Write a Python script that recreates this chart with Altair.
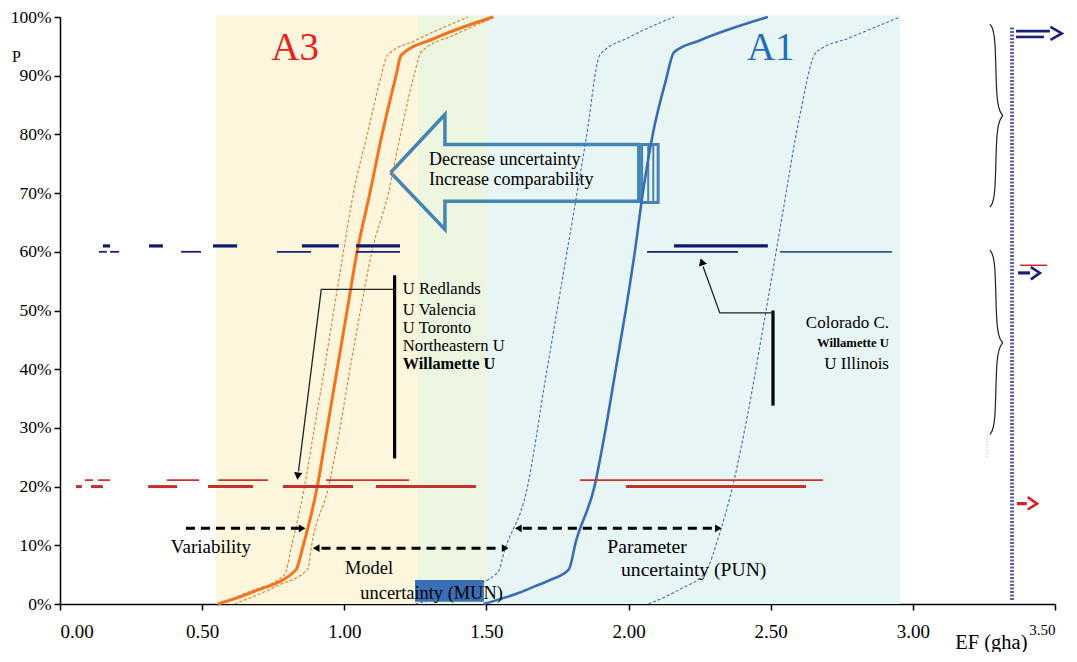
import altair as alt
import pandas as pd

FONT = "Liberation Serif"

# ---------------- data ----------------
# background bands (EF, gha)
band_lo = [0.549, 1.259, 1.502]
band_hi = [1.259, 1.502, 2.955]
band_fill = ["#fdf6dc", "#ebf5df", "#e8f5f5"]

# A3 cumulative curves (p in %, EF in gha)
a3_p_mid = [0, 2.2, 5.8, 9.7, 20, 30, 40, 50, 60, 70, 80, 90, 93.5, 96.3, 100]
a3_ef_mid = [0.555, 0.686, 0.83, 0.854, 0.905, 0.94, 0.975, 1.01, 1.045, 1.09, 1.133, 1.182, 1.2, 1.315, 1.523]
a3_p_lo = [0, 2, 5, 10, 20, 30, 40, 50, 60, 70, 80, 90, 93.5, 96, 100]
a3_ef_lo = [0.56, 0.66, 0.79, 0.815, 0.86, 0.895, 0.93, 0.963, 0.997, 1.032, 1.081, 1.13, 1.152, 1.25, 1.435]
a3_p_hi = [0, 3, 6, 10, 20, 30, 40, 50, 60, 70, 80, 90, 94, 97, 100]
a3_ef_hi = [0.614, 0.76, 0.872, 0.885, 0.945, 0.985, 1.02, 1.057, 1.097, 1.155, 1.198, 1.245, 1.27, 1.39, 1.53]

# A1 cumulative curves
a1_p_mid = [0, 2, 3, 4, 5.9, 10.7, 20, 30, 40, 50, 60, 70, 80, 89, 94, 96, 100]
a1_ef_mid = [1.49, 1.62, 1.67, 1.72, 1.79, 1.815, 1.88, 1.92, 1.955, 1.99, 2.022, 2.05, 2.085, 2.13, 2.16, 2.25, 2.49]
a1_p_lo = [0, 2.5, 5.4, 9.3, 19, 39, 59, 79, 93.6, 96.5, 100]
a1_ef_lo = [1.25, 1.42, 1.54, 1.565, 1.64, 1.71, 1.78, 1.85, 1.90, 2.0, 2.16]
a1_p_hi = [0, 2.5, 5.4, 12, 20, 32.6, 49, 66, 82.6, 94, 96.5, 100]
a1_ef_hi = [2.07, 2.18, 2.27, 2.32, 2.366, 2.42, 2.48, 2.54, 2.60, 2.66, 2.78, 2.955]

# university ranges at 60 % (navy) and 20 % (red)
navy_top_from = [0.151, 0.313, 0.538, 0.851, 1.041, 2.160]
navy_top_to = [0.176, 0.362, 0.623, 0.981, 1.196, 2.490]
navy_bot_from = [0.137, 0.176, 0.426, 0.763, 1.041, 2.065]
navy_bot_to = [0.165, 0.208, 0.496, 0.883, 1.196, 2.385]
steel_bot_from = [2.533]
steel_bot_to = [2.927]
red_top_from = [0.088, 0.134, 0.376, 0.556, 0.936, 1.829]
red_top_to = [0.116, 0.176, 0.489, 0.732, 1.228, 2.684]
red_bot_from = [0.056, 0.109, 0.310, 0.521, 0.784, 1.111, 1.991]
red_bot_to = [0.077, 0.151, 0.412, 0.679, 1.031, 1.463, 2.624]

# text labels
univ_a3 = ["U Redlands", "U Valencia", "U Toronto", "Northeastern U"]
univ_a3_p = [53.6, 50.1, 47.1, 44.0]
univ_a3_bold = ["Willamette U"]
univ_a3_bold_p = [40.9]
univ_a1 = ["Colorado C.", "U Illinois"]
univ_a1_p = [47.8, 40.9]
univ_a1_bold = ["Willamette U"]
univ_a1_bold_p = [44.5]

# ---------------- scales / axes ----------------
XS = alt.Scale(domain=[0, 3.5], nice=False, zero=False)
YS = alt.Scale(domain=[0, 100], nice=False, zero=False)
XAX = alt.Axis(values=[0, 0.5, 1.0, 1.5, 2.0, 2.5, 3.0, 3.5], format=".2f", grid=False,
               title="EF (gha)", titleFontSize=20.5, titleX=967, titleY=38,
               titleAlign="right", titleBaseline="middle", titleAnchor="end",
               tickSize=6, labelPadding=12, domainWidth=1.5, tickWidth=1.5,
               labelFontSize={"condition": {"test": "datum.value == 3.5", "value": 15}, "value": 19})
YAX = alt.Axis(values=list(range(0, 101, 10)), labelExpr="datum.value + '%'", grid=False,
               title="P", titleAngle=0, titleX=-44, titleY=39, titleAlign="center",
               titleBaseline="middle", titleFontSize=16, tickSize=6, labelPadding=3,
               labelFontSize=17.5, domainWidth=1.5, tickWidth=1.5)


def X(f="x"):
    return alt.X(f"{f}:Q", scale=XS, axis=XAX)


def Y(f="y"):
    return alt.Y(f"{f}:Q", scale=YS, axis=YAX)


def line_df(name, xs, ys):
    return pd.DataFrame({"s": name, "x": xs, "y": ys, "i": list(range(len(xs)))})


def lines(df, **kw):
    return alt.Chart(df).mark_line(**kw).encode(x=X(), y=Y(), detail="s:N", order="i:Q")


layers = []

# bands
bands = pd.DataFrame({"x": band_lo, "x2": band_hi, "y": 0, "y2": 100.3, "c": band_fill})
layers.append(alt.Chart(bands).mark_rect().encode(
    x=X(), x2="x2:Q", y=Y(), y2="y2:Q", color=alt.Color("c:N", scale=None)))

# MUN highlight box
mun = pd.DataFrame({"x": [1.249], "x2": [1.491], "y": [0.4], "y2": [4.1]})
layers.append(alt.Chart(mun).mark_rect(color="#3b6fb5").encode(x=X(), x2="x2:Q", y=Y(), y2="y2:Q"))

# big hollow arrow
arrow_x = [1.163, 1.354, 1.354, 2.036, 2.036, 1.354, 1.354, 1.163]
arrow_y = [73.5, 83.4, 78.3, 78.3, 68.6, 68.6, 63.8, 73.5]
layers.append(lines(line_df("arrow", arrow_x, arrow_y), color="#4386b3", strokeWidth=3.5,
                    strokeJoin="miter"))
endbox = pd.DataFrame({"x": [2.046], "x2": [2.104], "y": [68.4], "y2": [78.3]})
layers.append(alt.Chart(endbox).mark_rect(fill=None, stroke="#4386b3", strokeWidth=3).encode(
    x=X(), x2="x2:Q", y=Y(), y2="y2:Q"))
inner = pd.DataFrame({"x": [2.069, 2.087], "y": [68.4, 68.4], "y2": [78.3, 78.3]})
layers.append(alt.Chart(inner).mark_rule(color="#4386b3", strokeWidth=2).encode(
    x=X(), y=Y(), y2="y2:Q"))

# curves
dashed = pd.concat([line_df("a3lo", a3_ef_lo, a3_p_lo), line_df("a3hi", a3_ef_hi, a3_p_hi)])
layers.append(lines(dashed, color="#e07a30", strokeWidth=1.1, strokeDash=[3, 2],
                    interpolate="monotone"))
dashed_b = pd.concat([line_df("a1lo", a1_ef_lo, a1_p_lo), line_df("a1hi", a1_ef_hi, a1_p_hi)])
layers.append(lines(dashed_b, color="#3f6fa8", strokeWidth=1.1, strokeDash=[3, 2],
                    interpolate="monotone"))
layers.append(lines(line_df("a3", a3_ef_mid, a3_p_mid), color="#f3741f", strokeWidth=3,
                    interpolate="monotone"))
layers.append(lines(line_df("a1", a1_ef_mid, a1_p_mid), color="#3a6db5", strokeWidth=2.6,
                    interpolate="monotone"))

# university range segments
segs = pd.concat([
    pd.DataFrame({"x": navy_top_from, "x2": navy_top_to, "y": 61.0, "c": "#0f1a6e", "w": 3.2}),
    pd.DataFrame({"x": navy_bot_from, "x2": navy_bot_to, "y": 60.0, "c": "#17237a", "w": 1.8}),
    pd.DataFrame({"x": steel_bot_from, "x2": steel_bot_to, "y": 60.0, "c": "#2b5d8c", "w": 1.8}),
    pd.DataFrame({"x": red_top_from, "x2": red_top_to, "y": 21.1, "c": "#d03228", "w": 1.8}),
    pd.DataFrame({"x": red_bot_from, "x2": red_bot_to, "y": 20.0, "c": "#c4302a", "w": 3.0}),
])
layers.append(alt.Chart(segs).mark_rule().encode(
    x=X(), x2="x2:Q", y=Y(), color=alt.Color("c:N", scale=None),
    strokeWidth=alt.StrokeWidth("w:Q", scale=None)))

# black bars
bars = pd.DataFrame({"x": [1.177, 2.508], "y": [56.0, 50.0], "y2": [24.8, 33.8]})
layers.append(alt.Chart(bars).mark_rule(color="black", strokeWidth=3.2).encode(
    x=X(), y=Y(), y2="y2:Q"))

# connectors
conn = pd.concat([
    line_df("c1", [1.177, 0.919, 0.839], [53.6, 53.6, 22.6]),
    line_df("c2", [2.508, 2.321, 2.262], [49.6, 49.6, 57.5]),
])
layers.append(lines(conn, color="#222222", strokeWidth=1.3))
heads = pd.DataFrame({"x": [0.837, 2.259], "y": [22.0, 58.1], "a": [187, 341]})
layers.append(alt.Chart(heads).mark_point(shape="triangle", filled=True, color="black", size=70,
                                           opacity=1).encode(
    x=X(), y=Y(), angle=alt.Angle("a:Q", scale=None)))

# dashed double arrows
darr = pd.DataFrame({"x": [0.443, 0.92, 1.628], "x2": [0.84, 1.55, 2.30],
                     "y": [12.9, 9.5, 12.9]})
layers.append(alt.Chart(darr).mark_rule(color="black", strokeWidth=3, strokeDash=[9, 6]).encode(
    x=X(), x2="x2:Q", y=Y()))
dheads = pd.DataFrame({"x": [0.848, 0.905, 1.562, 1.616, 2.312],
                       "y": [12.9, 9.5, 9.5, 12.9, 12.9],
                       "a": [90, 270, 90, 270, 90]})
layers.append(alt.Chart(dheads).mark_point(shape="triangle", filled=True, color="black", size=60,
                                            opacity=1).encode(
    x=X(), y=Y(), angle=alt.Angle("a:Q", scale=None)))

# right-hand side decorations
rdash = pd.DataFrame({"x": [3.349], "y": [0.7], "y2": [98.3]})
layers.append(alt.Chart(rdash).mark_rule(color="#5d5fa8", strokeWidth=4, strokeDash=[2, 1.5]).encode(
    x=X(), y=Y(), y2="y2:Q"))
gdot = pd.DataFrame({"x": [3.261], "y": [25.0], "y2": [29.0]})
layers.append(alt.Chart(gdot).mark_rule(color="#aaaaaa", strokeWidth=1, strokeDash=[1, 2]).encode(
    x=X(), y=Y(), y2="y2:Q"))
braces = pd.concat([
    line_df("b1", [3.271, 3.292, 3.292, 3.317, 3.317, 3.292, 3.292, 3.271],
            [98.8, 97.5, 84.6, 83.2, 83.2, 81.8, 68.9, 67.6]),
    line_df("b2", [3.271, 3.292, 3.292, 3.317, 3.317, 3.292, 3.292, 3.271],
            [60.3, 58.9, 45.8, 44.5, 44.5, 43.1, 30.2, 28.9]),
])
layers.append(lines(braces, color="#222222", strokeWidth=1.2, interpolate="basis"))
rr = pd.DataFrame({"x": [3.363, 3.363, 3.377, 3.370, 3.366],
                   "x2": [3.482, 3.461, 3.472, 3.412, 3.401],
                   "y": [97.6, 96.6, 57.7, 56.4, 17.1],
                   "c": ["#1a1f7a", "#1a1f7a", "#d82020", "#1a1f7a", "#d82020"],
                   "w": [2.6, 2.6, 1.5, 3.2, 3.2]})
layers.append(alt.Chart(rr).mark_rule().encode(
    x=X(), x2="x2:Q", y=Y(), color=alt.Color("c:N", scale=None),
    strokeWidth=alt.StrokeWidth("w:Q", scale=None)))
chev_navy = pd.concat([
    line_df("h1", [3.484, 3.524, 3.484], [98.3, 97.2, 96.1]),
    line_df("h2", [3.415, 3.447, 3.415], [57.4, 56.4, 55.3]),
])
layers.append(lines(chev_navy, color="#1a1f7a", strokeWidth=2.6))
layers.append(lines(line_df("h3", [3.404, 3.437, 3.404], [18.2, 17.1, 16.1]),
                    color="#d82020", strokeWidth=2.6))

# ---------------- texts ----------------
def txt(df, **kw):
    base = dict(font=FONT, baseline="middle")
    base.update(kw)
    return alt.Chart(df).mark_text(**base).encode(x=X(), y=Y(), text="t:N")


layers.append(txt(pd.DataFrame({"x": [0.827], "y": [94.7], "t": ["A3"]}),
                  fontSize=39, color="#e8201c", align="center"))
layers.append(txt(pd.DataFrame({"x": [2.50], "y": [94.7], "t": ["A1"]}),
                  fontSize=39, color="#1f6fb8", align="center"))
layers.append(txt(pd.DataFrame({"x": [1.298, 1.298], "y": [75.6, 72.3],
                                "t": ["Decrease uncertainty", "Increase comparability"]}),
                  fontSize=18, color="black", align="left"))
layers.append(txt(pd.DataFrame({"x": 1.206, "y": univ_a3_p, "t": univ_a3}),
                  fontSize=16.6, color="black", align="left"))
layers.append(txt(pd.DataFrame({"x": 1.206, "y": univ_a3_bold_p, "t": univ_a3_bold}),
                  fontSize=16.3, color="black", align="left", fontWeight="bold"))
layers.append(txt(pd.DataFrame({"x": 2.916, "y": univ_a1_p, "t": univ_a1}),
                  fontSize=17, color="black", align="right"))
layers.append(txt(pd.DataFrame({"x": 2.916, "y": univ_a1_bold_p, "t": univ_a1_bold}),
                  fontSize=12.7, color="black", align="right", fontWeight="bold"))
layers.append(txt(pd.DataFrame({"x": [0.531], "y": [9.7], "t": ["Variability"]}),
                  fontSize=19, color="black", align="center"))
layers.append(txt(pd.DataFrame({"x": [1.087, 1.307], "y": [6.1, 1.9],
                                "t": ["Model", "uncertainty (MUN)"]}),
                  fontSize=18.4, color="black", align="center"))
layers.append(txt(pd.DataFrame({"x": [2.065, 2.229], "y": [9.7, 5.8],
                                "t": ["Parameter", "uncertainty (PUN)"]}),
                  fontSize=19.6, color="black", align="center"))

chart = alt.layer(*layers).properties(
    width=995, height=587,
    padding={"left": 52, "top": 9, "right": 14, "bottom": 48},
    autosize=alt.AutoSizeParams(type="none"),
    background="white",
).configure_view(stroke=None).configure_axis(
    domainColor="black", tickColor="black", labelColor="black", titleColor="black",
    labelFont=FONT, titleFont=FONT, titleFontWeight="normal")

chart.save("out.html", embed_options={"renderer": "svg", "actions": False})
